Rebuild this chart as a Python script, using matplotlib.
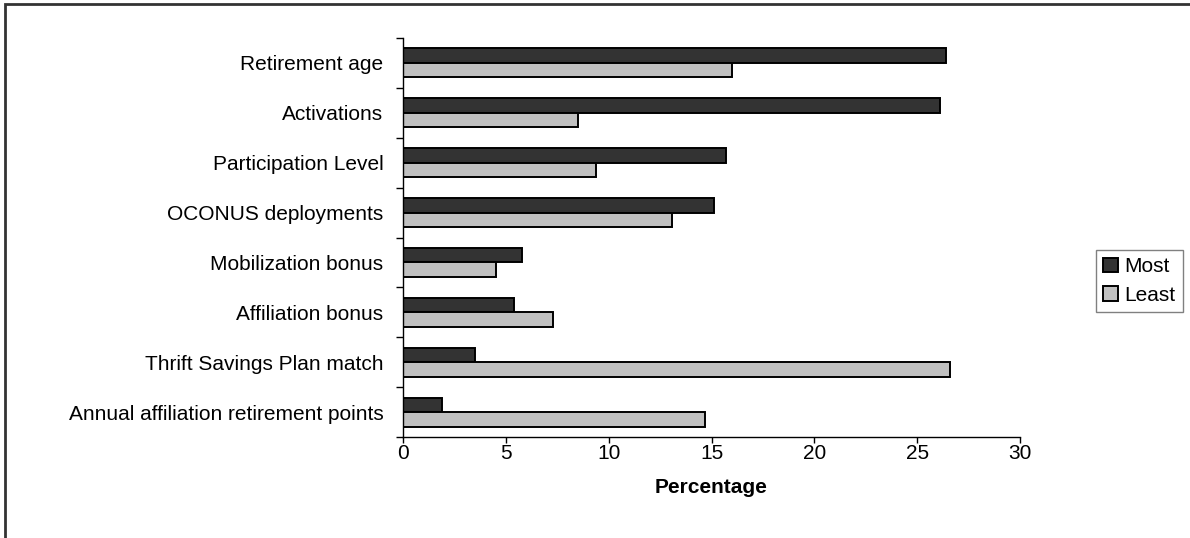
import matplotlib
matplotlib.use("Agg")
import matplotlib.pyplot as plt
from matplotlib.patches import Rectangle
import numpy as np

plt.rcParams['font.family'] = ['Liberation Sans', 'DejaVu Sans']

categories = [
    "Retirement age",
    "Activations",
    "Participation Level",
    "OCONUS deployments",
    "Mobilization bonus",
    "Affiliation bonus",
    "Thrift Savings Plan match",
    "Annual affiliation retirement points",
]
most = [26.4, 26.1, 15.7, 15.1, 5.8, 5.4, 3.5, 1.9]
least = [16.0, 8.5, 9.4, 13.1, 4.5, 7.3, 26.6, 14.7]
xticks = [0, 5, 10, 15, 20, 25, 30]

FS = 15
W, H = 1190, 538
fig = plt.figure(figsize=(W / 100, H / 100), dpi=100)
ax = fig.add_axes([403 / W, 1 - 437 / H, (1020 - 403) / W, (437 - 38) / H])

y = np.arange(len(categories))
bh = 0.29
ax.barh(y - bh / 2, most, height=bh, color="#333333", edgecolor="black",
        linewidth=1.4, label="Most")
ax.barh(y + bh / 2, least, height=bh, color="#c0c0c0", edgecolor="black",
        linewidth=1.4, label="Least")

ax.set_xlim(0, 30)
ax.set_ylim(len(categories) - 0.5, -0.5)
ax.set_xticks(xticks)
ax.set_xticklabels([str(t) for t in xticks], fontsize=FS)

# category labels centred, tick marks on the boundaries between groups
ax.set_yticks(y)
ax.set_yticklabels(categories, fontsize=FS)
ax.tick_params(axis="y", length=0, pad=14)
ax.set_yticks(np.arange(-0.5, len(categories)), minor=True)
ax.tick_params(axis="y", which="minor", length=5, width=1, color="black")
ax.tick_params(axis="x", length=4, width=1, pad=1, color="black")

for s in ("top", "right"):
    ax.spines[s].set_visible(False)
for s in ("left", "bottom"):
    ax.spines[s].set_color("black")
    ax.spines[s].set_linewidth(1)

ax.set_xlabel("Percentage", fontsize=FS, fontweight="bold", labelpad=11)

leg = fig.legend(loc="center left", bbox_to_anchor=(1096 / W, 1 - 281 / H),
                 fontsize=FS, frameon=True, fancybox=False, handlelength=0.7,
                 handleheight=0.7, handletextpad=0.3, borderpad=0.35,
                 labelspacing=0.45, borderaxespad=0)
leg.get_frame().set_edgecolor("#606060")
leg.get_frame().set_linewidth(1)

# chart area border
fig.patches.append(Rectangle((5 / W, -0.1), 1.2, 1 - 4 / H + 0.1,
                             transform=fig.transFigure, fill=False,
                             edgecolor="#333333", linewidth=2))

fig.savefig("out.png", dpi=100)
